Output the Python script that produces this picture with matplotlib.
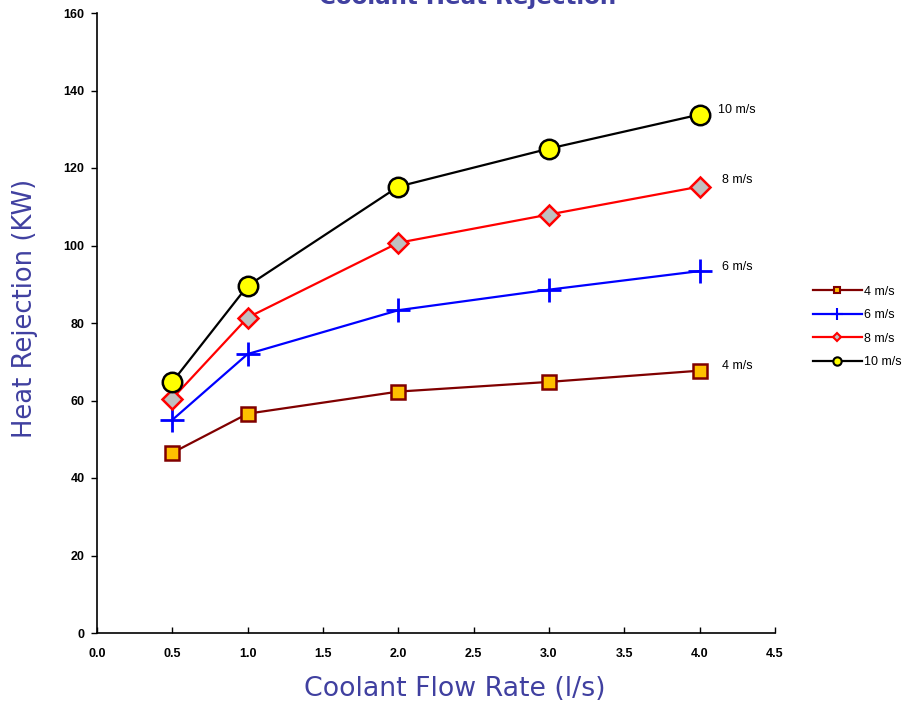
import matplotlib
matplotlib.use("Agg")
import matplotlib.pyplot as plt
from matplotlib.lines import Line2D

plt.rcParams['font.family'] = ['Liberation Sans', 'DejaVu Sans']

flow = [0.5, 1.0, 2.0, 3.0, 4.0]
series_names = ["4 m/s", "6 m/s", "8 m/s", "10 m/s"]
v4 = [46.5, 56.6, 62.3, 64.8, 67.7]
v6 = [55.0, 72.0, 83.3, 88.6, 93.4]
v8 = [60.5, 81.4, 100.7, 108.0, 115.2]
v10 = [64.8, 89.6, 115.2, 125.0, 133.8]
xticks = [0.0, 0.5, 1.0, 1.5, 2.0, 2.5, 3.0, 3.5, 4.0, 4.5]
yticks = [0, 20, 40, 60, 80, 100, 120, 140, 160]

label_color = '#4040A0'
label_font = ['DejaVu Sans']

fig = plt.figure(figsize=(9.1, 7.04), dpi=100)
ax = fig.add_axes([97/910, 1-633/704, (775-97)/910, (633-13)/704])

styles = [
    dict(color='#800000', marker='s', mfc='#FFC000', mec='#800000', ms=10, mew=1.8, lw=1.6),
    dict(color='#0000FF', marker='+', mfc='#0000FF', mec='#0000FF', ms=17, mew=2.0, lw=1.6),
    dict(color='#FF0000', marker='D', mfc='#C0C0C0', mec='#FF0000', ms=10, mew=1.8, lw=1.6),
    dict(color='#000000', marker='o', mfc='#FFFF00', mec='#000000', ms=14, mew=1.8, lw=1.6),
]
legend_ms = [5, 8, 4.5, 6]
data = [v4, v6, v8, v10]
for name, vals, st in zip(series_names, data, styles):
    ax.plot(flow, vals, label=name, clip_on=False, zorder=3, **st)

# end labels
label_pos = [(4.15, 68.9), (4.15, 94.5), (4.15, 116.9), (4.12, 135.0)]
for name, (lx, ly) in zip(series_names, label_pos):
    ax.text(lx, ly, name, fontsize=9, ha='left', va='center', color='#000000')

ax.set_xlim(0, 4.5)
ax.set_ylim(0, 160)
ax.set_xticks(xticks)
ax.set_yticks(yticks)
ax.set_xticklabels([f"{t:.1f}" for t in xticks], fontsize=9, fontweight='bold')
ax.set_yticklabels([str(t) for t in yticks], fontsize=9, fontweight='bold')
ax.tick_params(axis='x', direction='in', length=4, width=1, pad=11)
ax.tick_params(axis='y', direction='out', length=4, width=1, pad=5)
for s in ['top', 'right']:
    ax.spines[s].set_visible(False)
for s in ['left', 'bottom']:
    ax.spines[s].set_linewidth(1.2)

ax.set_xlabel("Coolant Flow Rate (l/s)", fontsize=19.3, color=label_color,
              family=label_font, va='center', ha='center')
ax.xaxis.set_label_coords((454.5-97)/678, (633-689)/620)
ax.set_ylabel("Heat Rejection (KW)", fontsize=18.6, color=label_color,
              family=label_font, va='center', ha='center')
ax.yaxis.set_label_coords((25-97)/678, (633-308.5)/620)
fig.text(467.5/910, 1-(-3)/704, "Coolant Heat Rejection", fontsize=16.6, color=label_color,
         ha='center', va='center', fontweight='bold', family=label_font)

handles = []
for name, st, lms in zip(series_names, styles, legend_ms):
    h = dict(st)
    h['ms'] = lms
    h['mew'] = 1.5
    handles.append(Line2D([0], [0], label=name, **h))
fig.legend(handles=handles, loc='center left', bbox_to_anchor=(808/910, 1-327/704),
           frameon=False, fontsize=9, handlelength=3.9, handletextpad=0.2,
           labelspacing=0.92, borderaxespad=0)

fig.savefig("out.png", dpi=100)
